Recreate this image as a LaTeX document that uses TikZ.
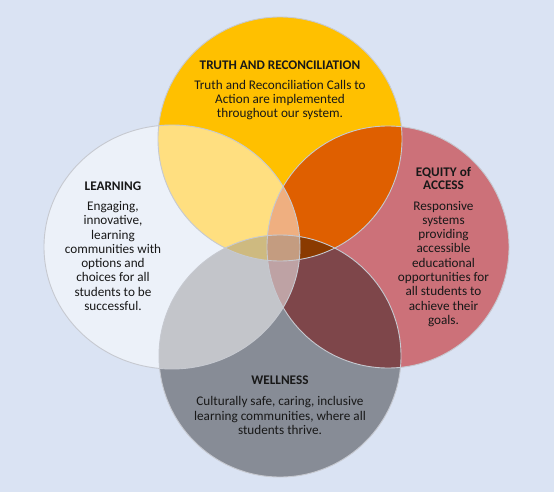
\documentclass[tikz,border=0pt]{standalone}
\usepackage{fontspec}
\setmainfont{Carlito}
\usetikzlibrary{positioning}
\definecolor{bgF}{RGB}{218,227,243}
\definecolor{truF}{RGB}{255,192,0}
\definecolor{eqF}{RGB}{192,0,0}
\definecolor{rimL}{RGB}{198,201,208}
\definecolor{txt}{RGB}{24,24,24}

\begin{document}
\begin{tikzpicture}[
  x=1pt, y=-1pt,
  rim/.style={draw=rimL, line width=0.9pt},
  head/.style={font=\fontsize{13.2}{13.3}\selectfont\bfseries, text=txt, align=center, inner sep=0pt, anchor=base},
  body/.style={font=\fontsize{13.2}{14.3}\selectfont, text=txt, align=center, inner sep=0pt, anchor=base},
]

% ---- page ----
\fill[bgF] (0,0) rectangle (554,492);
\useasboundingbox (0,0) rectangle (554,492);

% ---- circles (order: truth, equity, wellness, learning) ----
\fill[truF] (280,139) circle[radius=122];
\fill[eqF, opacity=0.5] (388,247) circle[radius=121];
\fill[black, opacity=0.38] (280,356) circle[radius=121];
\fill[white, opacity=0.5] (172,247) ellipse[x radius=128, y radius=122];

% ---- rims ----
\draw[rim] (280,139) circle[radius=122];
\draw[rim] (388,247) circle[radius=121];
\draw[rim] (280,356) circle[radius=121];
\draw[rim] (172,247) ellipse[x radius=128, y radius=122];

% ---- texts (base = last line) ----
\node[head] (ttlTruth) at (280,69.3) {TRUTH AND RECONCILIATION};
\node[body] (txtTruth) at (280,117.9) {Truth and Reconciliation Calls to\\Action are implemented\\throughout our system.};

\node[head] (ttlLearn) at (113,190) {LEARNING};
\node[body] (txtLearn) at (113,310.5) {Engaging,\\innovative,\\learning\\communities with\\options and\\choices for all\\students to be\\successful.};

\node[head] (ttlEquity) at (443.5,189.3) {EQUITY of\\ACCESS};
\node[body] (txtEquity) at (443.5,324.4) {Responsive\\systems\\providing\\accessible\\educational\\opportunities for\\all students to\\achieve their\\goals.};

\node[head] (ttlWell) at (280,384.3) {WELLNESS};
\node[body] (txtWell) at (280,434.3) {Culturally safe, caring, inclusive\\learning communities, where all\\students thrive.};

\end{tikzpicture}
\end{document}
